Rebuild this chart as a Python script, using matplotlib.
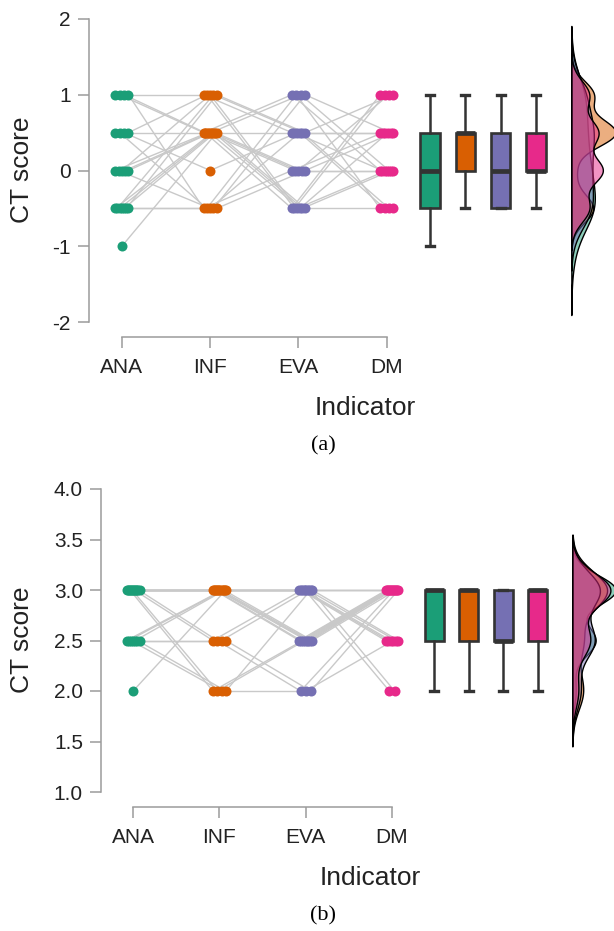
import numpy as np
import matplotlib
matplotlib.use("Agg")
from matplotlib import pyplot as plt
from matplotlib.colors import to_rgba

plt.rcParams['font.family'] = ['Liberation Sans', 'DejaVu Sans']
plt.rcParams['axes.unicode_minus'] = False

# data: one value per participant for each indicator
indicators = ['ANA', 'INF', 'EVA', 'DM']
colors = ['#1b9e77', '#d95f02', '#7570b3', '#e7298a']

# panel (a)
a_ana = [1, 1, 1, 1, 0.5, 0.5, 0.5, 0.5, 0, 0, 0, 0, 0, -0.5, -0.5, -0.5, -0.5, -0.5, -0.5, -0.5, -1]
a_inf = [1, 0.5, 0.5, -0.5, 0.5, -0.5, 0, 1, 0.5, -0.5, 1, 0.5, 0.5, 0.5, 1, 0.5, -0.5, 0.5, 1, -0.5, 0.5]
a_eva = [0.5, 1, -0.5, 0, 0.5, 1, 0.5, -0.5, 0, 0.5, -0.5, -0.5, 1, 0, 0.5, -0.5, 1, 0, 0.5, 0, -0.5]
a_dm = [0.5, 0, 1, 0.5, 0, -0.5, 0.5, 1, 0, -0.5, 0, 0.5, 0, 1, -0.5, 0, 0.5, 0, 1, 0.5, -0.5]
a_yticks = [-2, -1, 0, 1, 2]

# panel (b)
b_ana = [3, 3, 3, 3, 3, 3, 3, 3, 3, 3, 3, 3, 3, 2.5, 2.5, 2.5, 2.5, 2.5, 2.5, 2.5, 2]
b_inf = [3, 3, 3, 2, 3, 2, 3, 2.5, 3, 3, 3, 2.5, 3, 3, 3, 2, 2.5, 3, 2, 2.5, 3]
b_eva = [3, 2.5, 2.5, 2.5, 3, 2.5, 2.5, 3, 2.5, 3, 2.5, 2, 3, 3, 2.5, 2, 3, 3, 3, 2, 3]
b_dm = [3, 3, 3, 3, 2.5, 3, 3, 2.5, 3, 2.5, 3, 3, 2, 3, 3, 2.5, 2.5, 3, 2, 3, 2.5]
b_yticks = [1.0, 1.5, 2.0, 2.5, 3.0, 3.5, 4.0]

W, H = 614, 931
line_grey = '#c9c9c9'
axis_grey = '#9b9b9b'
dark = '#333333'


def jitter(vals):
    off = np.zeros(len(vals))
    for v in np.unique(vals):
        idx = np.where(vals == v)[0]
        c = len(idx)
        if c > 1:
            w = min(0.075, 0.03 * (c - 1))
            off[idx] = np.linspace(-w, w, c)
    return off


def kde(vals):
    # gaussian density with R's bw.nrd0 and cut = 3
    n = len(vals)
    sd = np.std(vals, ddof=1)
    iqr = np.subtract(*np.percentile(vals, [75, 25]))
    lo = min(sd, iqr / 1.34) if iqr > 0 else sd
    bw = 0.9 * lo * n ** -0.2
    grid = np.linspace(vals.min() - 3 * bw, vals.max() + 3 * bw, 512)
    d = np.exp(-0.5 * ((grid[:, None] - vals[None, :]) / bw) ** 2).sum(1)
    d /= n * bw * np.sqrt(2 * np.pi)
    return grid, d


def raincloud(ax, series, yticks, ylabels):
    series = [np.array(s, dtype=float) for s in series]
    xs = [i + jitter(s) for i, s in enumerate(series)]

    # subject lines
    for i in range(len(series) - 1):
        for k in range(len(series[i])):
            ax.plot([xs[i][k], xs[i + 1][k]], [series[i][k], series[i + 1][k]],
                    color=line_grey, lw=1, zorder=1)
    for i, s in enumerate(series):
        ax.plot(xs[i], s, 'o', ms=7.2, color=colors[i], mec='none', zorder=3)

    # boxes
    pos = [3.49 + 0.4 * i for i in range(len(series))]
    bp = ax.boxplot(series, positions=pos, widths=0.22, whis=1.5,
                    patch_artist=True, showfliers=False, capwidths=0.09,
                    medianprops=dict(color=dark, lw=3.4, solid_capstyle='butt'),
                    whiskerprops=dict(color=dark, lw=1.8),
                    capprops=dict(color=dark, lw=2.4),
                    boxprops=dict(edgecolor=dark, lw=1.9), manage_ticks=False)
    for patch, c in zip(bp['boxes'], colors):
        patch.set_facecolor(c)

    # densities
    base = 5.09
    dens = [kde(s) for s in series]
    scale = 0.5 / max(d.max() for _, d in dens)
    for (g, d), c in zip(dens, colors):
        ax.fill_betweenx(g, base, base + d * scale, facecolor=to_rgba(c, 0.5),
                         edgecolor='black', lw=1, zorder=2)

    ax.set_xlim(-0.372, 5.573)
    ax.set_ylim(yticks[0], yticks[-1])
    ax.set_yticks(yticks)
    ax.set_yticklabels(ylabels)
    ax.set_xticks(range(len(indicators)))
    ax.set_xticklabels(indicators)
    for side in ['top', 'right']:
        ax.spines[side].set_visible(False)
    ax.spines['left'].set_bounds(yticks[0], yticks[-1])
    ax.spines['bottom'].set_bounds(0, len(indicators) - 1)
    ax.spines['bottom'].set_position(('outward', 11))
    for side in ['left', 'bottom']:
        ax.spines[side].set_color(axis_grey)
        ax.spines[side].set_linewidth(1.1)
    ax.tick_params(axis='both', colors=axis_grey, length=8, width=1.1,
                   labelsize=15, labelcolor='#222222')
    ax.tick_params(axis='y', pad=5)
    ax.tick_params(axis='x', pad=7)


fig = plt.figure(figsize=(W / 100, H / 100), dpi=100)

ax_a = fig.add_axes([89 / W, (H - 322) / H, (W - 89) / W, (322 - 19) / H])
raincloud(ax_a, [a_ana, a_inf, a_eva, a_dm], a_yticks, [str(t) for t in a_yticks])

ax_b = fig.add_axes([101 / W, (H - 792) / H, (W - 101) / W, (792 - 489) / H])
raincloud(ax_b, [b_ana, b_inf, b_eva, b_dm], b_yticks, ['%.1f' % t for t in b_yticks])

# axis titles and panel captions
fig.text(22 / W, (H - 170) / H, 'CT score', rotation=90, ha='center', va='center',
         fontsize=19, color='#222222')
fig.text(22 / W, (H - 640) / H, 'CT score', rotation=90, ha='center', va='center',
         fontsize=19, color='#222222')
fig.text(365 / W, (H - 408) / H, 'Indicator', ha='center', va='center',
         fontsize=19, color='#222222')
fig.text(370 / W, (H - 878) / H, 'Indicator', ha='center', va='center',
         fontsize=19, color='#222222')
fig.text(323 / W, (H - 446) / H, '(a)', ha='center', va='center',
         fontsize=16, family='Liberation Serif', color='black')
fig.text(323 / W, (H - 916) / H, '(b)', ha='center', va='center',
         fontsize=16, family='Liberation Serif', color='black')

fig.savefig('out.png', dpi=100)
